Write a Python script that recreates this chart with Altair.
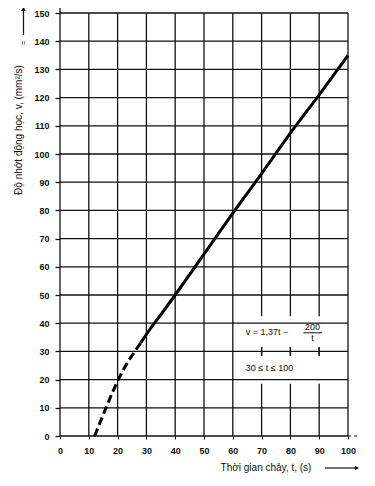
import altair as alt
import pandas as pd

# ---- data ----
x_ticks = [0, 10, 20, 30, 40, 50, 60, 70, 80, 90, 100]
y_ticks = [0, 10, 20, 30, 40, 50, 60, 70, 80, 90, 100, 110, 120, 130, 140, 150]

dash_t = [12, 14, 16, 18, 20, 22, 24, 26, 28]
dash_v = [0, 5, 10, 15, 19.5, 23.5, 27, 30, 33]

solid_t = [28, 30, 32, 35, 40, 50, 60, 70, 80, 90, 100]
solid_v = [33, 36, 39, 43, 50, 64.5, 79, 93, 107.5, 121, 135]

box_t1 = [62, 62]
box_t2 = [99, 99]
box_v1 = [31.5, 18.5]
box_v2 = [42.5, 28.5]

stub_t = [70, 80, 90]

formula_main = "v = 1,37t \u2212"
formula_num = "200"
formula_den = "t"
formula_range = "30 \u2264 t \u2264 100"
y_title = "\u0110\u1ed9 nh\u1edbt \u0111\u1ed9ng h\u1ecdc, v, (mm\u00b2/s)"
x_title = "Th\u1eddi gian ch\u1ea3y, t, (s)"

FONT = "Liberation Sans"
INK = "#111111"
W, H = 288, 423

xs = alt.Scale(domain=[0, 100], nice=False)
ys = alt.Scale(domain=[0, 150], nice=False)

AX = alt.Axis(values=x_ticks, grid=False, domain=False, tickSize=3, tickColor=INK,
              labelPadding=7, labelFont=FONT, labelFontSize=9, labelColor=INK,
              labelFontWeight="bold", labelOverlap=False, labelFlush=False)
AY = alt.Axis(values=y_ticks, grid=False, domain=False, tickSize=5, tickColor=INK,
              tickWidth=1.3, labelPadding=6, labelFont=FONT, labelFontSize=9,
              labelColor=INK, labelFontWeight="bold", labelOverlap=False, labelFlush=False)


def X(f):
    return alt.X(f, scale=xs, title=None, axis=AX)


def Y(f):
    return alt.Y(f, scale=ys, title=None, axis=AY)


vgrid = alt.Chart(pd.DataFrame({"t": x_ticks})).mark_rule(
    color=INK, strokeWidth=1.3
).encode(x=X("t:Q"))

boxes = alt.Chart(pd.DataFrame({"t1": box_t1, "t2": box_t2, "v1": box_v1, "v2": box_v2})).mark_rect(
    color="white"
).encode(x=X("t1:Q"), x2="t2:Q", y=Y("v1:Q"), y2="v2:Q")

stubs = alt.Chart(pd.DataFrame({"t": stub_t, "a": [28.5] * 3, "b": [31.5] * 3})).mark_rule(
    color=INK, strokeWidth=1.3
).encode(x=X("t:Q"), y=Y("a:Q"), y2="b:Q")

hgrid = alt.Chart(pd.DataFrame({"v": y_ticks})).mark_rule(
    color=INK, strokeWidth=1.3
).encode(y=Y("v:Q"))

dashed = alt.Chart(pd.DataFrame({"t": dash_t, "v": dash_v})).mark_line(
    color="black", strokeWidth=3, strokeDash=[8, 4]
).encode(x=X("t:Q"), y=Y("v:Q"))

solid = alt.Chart(pd.DataFrame({"t": solid_t, "v": solid_v})).mark_line(
    color="black", strokeWidth=3
).encode(x=X("t:Q"), y=Y("v:Q"))

txt_left = pd.DataFrame({"t": [64.5, 64.5], "v": [37.0, 24.2], "s": [formula_main, formula_range]})
txt_center = pd.DataFrame({"t": [87.7, 87.7], "v": [38.6, 34.6], "s": [formula_num, formula_den]})
texts_l = alt.Chart(txt_left).mark_text(font=FONT, fontSize=9, color=INK, align="left", baseline="middle").encode(
    x=X("t:Q"), y=Y("v:Q"), text="s:N")
texts_c = alt.Chart(txt_center).mark_text(font=FONT, fontSize=9, color=INK, align="center", baseline="middle").encode(
    x=X("t:Q"), y=Y("v:Q"), text="s:N")
frac_bar = alt.Chart(pd.DataFrame({"a": [84.5], "b": [91], "v": [36.6]})).mark_rule(
    color=INK, strokeWidth=1
).encode(x=X("a:Q"), x2="b:Q", y=Y("v:Q"))

# decorations (titles and arrows), in pixel positions of the plot area
ytitle = alt.Chart(pd.DataFrame({"s": [y_title]})).mark_text(
    font=FONT, fontSize=10, color=INK, angle=270, align="center", baseline="middle"
).encode(x=alt.value(-41), y=alt.value(117), text="s:N")

xtitle = alt.Chart(pd.DataFrame({"s": [x_title]})).mark_text(
    font=FONT, fontSize=10, color=INK, align="center", baseline="middle"
).encode(x=alt.value(206), y=alt.value(455), text="s:N")

up_line = alt.Chart(pd.DataFrame({"k": [0]})).mark_rule(color=INK, strokeWidth=1.2).encode(
    x=alt.value(-36.5), y=alt.value(-2), y2=alt.value(22)
)
up_head = alt.Chart(pd.DataFrame({"k": [0]})).mark_point(
    shape="triangle-up", filled=True, color=INK, size=22, opacity=1
).encode(x=alt.value(-36.5), y=alt.value(-4))
eq = alt.Chart(pd.DataFrame({"s": ["="]})).mark_text(
    font=FONT, fontSize=8, color=INK, angle=270, align="center", baseline="middle"
).encode(x=alt.value(-36.5), y=alt.value(30), text="s:N")

right_line = alt.Chart(pd.DataFrame({"k": [0]})).mark_rule(color=INK, strokeWidth=1.2).encode(
    x=alt.value(265), x2=alt.value(295), y=alt.value(455)
)
right_head = alt.Chart(pd.DataFrame({"k": [0]})).mark_point(
    shape="triangle-right", filled=True, color=INK, size=22, opacity=1
).encode(x=alt.value(297), y=alt.value(455))

y_ext = alt.Chart(pd.DataFrame({"k": [0]})).mark_rule(color=INK, strokeWidth=1.3).encode(
    x=alt.value(0), y=alt.value(-10), y2=alt.value(0)
)
x_ext = alt.Chart(pd.DataFrame({"k": [0]})).mark_rule(color=INK, strokeWidth=1, strokeDash=[3, 3]).encode(
    x=alt.value(288), x2=alt.value(300), y=alt.value(H)
)

chart = alt.layer(
    vgrid, boxes, stubs, hgrid, dashed, solid, texts_l, texts_c, frac_bar,
    ytitle, xtitle, up_line, up_head, eq, right_line, right_head, y_ext, x_ext,
).properties(
    width=W, height=H,
    autosize=alt.AutoSizeParams(type="none"),
    padding={"left": 52, "top": 5, "right": 14, "bottom": 45},
).configure_view(stroke=None).configure_axis(
    grid=False, domain=False, tickColor=INK, labelFont=FONT, labelFontSize=9,
    labelColor=INK, labelFontWeight="bold", labelOverlap=False, labelFlush=False,
)

chart.save("out.html", embed_options={"renderer": "svg", "actions": False})
